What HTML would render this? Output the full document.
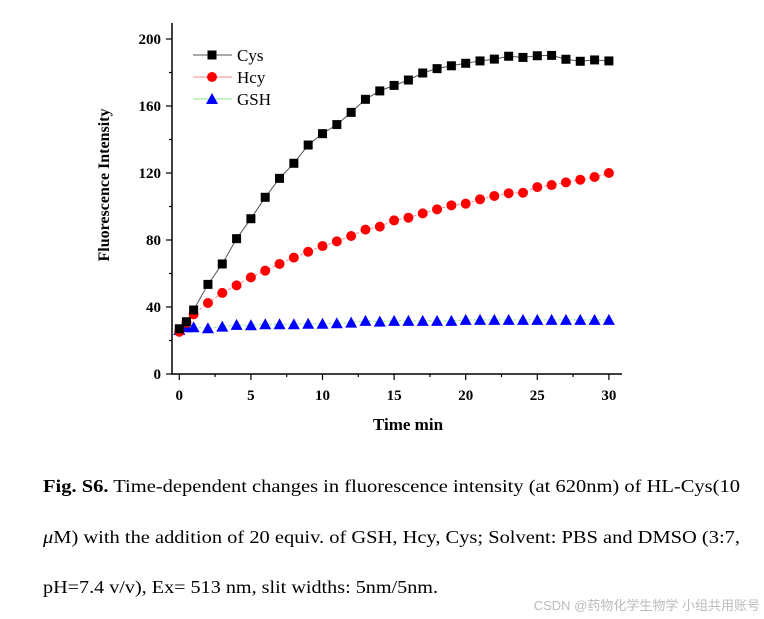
<!DOCTYPE html>
<html><head><meta charset="utf-8"><style>
html,body{margin:0;padding:0;background:#fff;}
svg{display:block;}
text{font-family:"Liberation Serif",serif;}
</style></head><body>
<svg id="chart" width="764" height="619" viewBox="0 0 764 619" xmlns="http://www.w3.org/2000/svg">
<g id="axes"></g>
<g id="series"></g>
<g id="legend">
  <line x1="193" y1="55" x2="232" y2="55" stroke="#555" stroke-width="1"/>
  <rect x="207.5" y="50.5" width="9" height="9" fill="#000"/>
  <text x="237" y="61" font-size="17">Cys</text>
  <line x1="193" y1="77" x2="232" y2="77" stroke="#f88" stroke-width="1"/>
  <circle cx="212" cy="77" r="5" fill="#f00"/>
  <text x="237" y="83" font-size="17">Hcy</text>
  <line x1="193" y1="99" x2="232" y2="99" stroke="#8e8" stroke-width="1"/>
  <polygon points="212,93 218,104 206,104" fill="#00f"/>
  <text x="237" y="105" font-size="17">GSH</text>
</g>
<text x="0" y="0" transform="translate(109,185) rotate(-90)" text-anchor="middle" font-size="16" font-weight="bold">Fluorescence Intensity</text>
<text x="408" y="430" text-anchor="middle" font-size="17" font-weight="bold">Time min</text>
<g>
<text x="43" y="492" font-size="18" textLength="697" lengthAdjust="spacingAndGlyphs"><tspan font-weight="bold">Fig. S6.</tspan> Time-dependent changes in fluorescence intensity (at 620nm) of HL-Cys(10</text>
<text x="43" y="543" font-size="18" textLength="697" lengthAdjust="spacingAndGlyphs"><tspan font-style="italic">μ</tspan>M) with the addition of 20 equiv. of GSH, Hcy, Cys; Solvent: PBS and DMSO (3:7,</text>
<text x="43" y="593" font-size="18" textLength="395" lengthAdjust="spacingAndGlyphs">pH=7.4 v/v), Ex= 513 nm, slit widths: 5nm/5nm.</text>
</g>
<text x="760" y="610" text-anchor="end" font-size="13" fill="#bbb" style="font-family:'Liberation Sans','Noto Sans CJK SC',sans-serif">CSDN @药物化学生物学 小组共用账号</text>
</svg>
<script>
const times = [0,0.5,1,2,3,4,5,6,7,8,9,10,11,12,13,14,15,16,17,18,19,20,21,22,23,24,25,26,27,28,29,30];
const cysValues = [27,31.2,38.2,53.5,65.7,80.8,92.7,105.5,116.8,125.8,136.7,143.5,148.9,156.2,164,169,172.3,175.5,179.7,182.3,184,185.5,186.9,188,189.7,189,190,190.2,187.9,186.7,187.5,186.9];
const hcyValues = [25.2,30.6,35.6,42.4,48.4,52.9,57.7,61.7,65.7,69.5,73,76.4,79.2,82.4,86.2,88,91.7,93.3,95.9,98.3,100.7,101.7,104.3,106.3,107.9,108.2,111.6,112.8,114.4,116,117.6,120];
const gshValues = [26.3,27.9,27.9,27.3,28.3,29.3,29.1,29.7,29.7,29.7,30,30,30.3,30.7,31.7,31.3,31.7,31.7,31.7,31.7,31.7,32.3,32.3,32.3,32.3,32.3,32.3,32.3,32.3,32.3,32.3,32.3];
const xTicks = [0,5,10,15,20,25,30];
const yTicks = [0,40,80,120,160,200];

const NS = "http://www.w3.org/2000/svg";
const xS = v => 179.3 + v * 14.32;
const yS = v => 374 - v * 1.675;
function mk(tag, attrs, parent){const e=document.createElementNS(NS,tag);for(const k in attrs)e.setAttribute(k,attrs[k]);parent.appendChild(e);return e;}
const axes = document.getElementById('axes');
const ser = document.getElementById('series');

let el = mk('line',{x1:172,y1:374,x2:622,y2:374,stroke:'#000','stroke-width':1.5},axes);


el = mk('line',{x1:172,y1:23,x2:172,y2:374.7,stroke:'#000','stroke-width':1.5},axes);


for (let v=0; v<=30; v+=2.5){
  const major = v%5===0;
  el = mk('line',{x1:xS(v),y1:374,x2:xS(v),y2:major?380:377,stroke:'#000','stroke-width':1.2},axes);
  
  
}
xTicks.forEach(v=>{
  el = mk('text',{x:xS(v),y:400,'text-anchor':'middle','font-size':15,'font-weight':'bold'},axes);
  el.textContent = v;
  
  
});
for (let v=0; v<=200; v+=20){
  const major = v%40===0;
  el = mk('line',{x1:major?166:169,y1:yS(v),x2:172,y2:yS(v),stroke:'#000','stroke-width':1.2},axes);
  
  
}
yTicks.forEach(v=>{
  el = mk('text',{x:161,y:yS(v)+5,'text-anchor':'end','font-size':15,'font-weight':'bold'},axes);
  el.textContent = v;
  
  
});

function line(vals, color, dash, name){
  const pts = times.map((t,i)=>xS(t)+','+yS(vals[i])).join(' ');
  const p = mk('polyline',{points:pts,fill:'none',stroke:color,'stroke-width':1,'stroke-dasharray':dash},ser);
  
  
}
line(gshValues,'#8e8','3,2','gsh-line');
line(hcyValues,'#f88','3,2','hcy-line');
line(cysValues,'#555','none','cys-line');
times.forEach((t,i)=>{
  const x=xS(t), y=yS(gshValues[i]);
  const m = mk('polygon',{points:`${x},${y-6} ${x+6},${y+5} ${x-6},${y+5}`,fill:'#00f'},ser);
  
  
});
times.forEach((t,i)=>{
  const m = mk('circle',{cx:xS(t),cy:yS(hcyValues[i]),r:5,fill:'#f00'},ser);
  
  
});
times.forEach((t,i)=>{
  const m = mk('rect',{x:xS(t)-4.5,y:yS(cysValues[i])-4.5,width:9,height:9,fill:'#000'},ser);
  
  
});
</script>
</body></html>
